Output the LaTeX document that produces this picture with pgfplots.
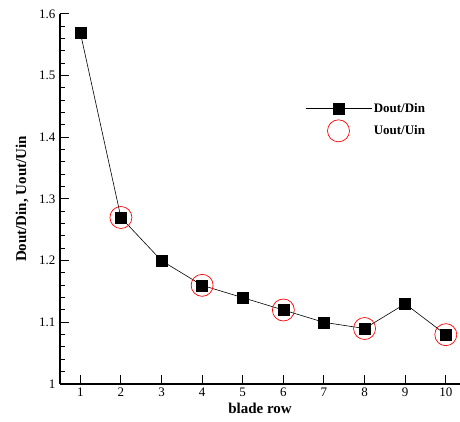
\documentclass[border=0pt]{standalone}
\usepackage{fontspec}
\setmainfont{Liberation Serif}
\usepackage{pgfplots}
\pgfplotsset{compat=1.18}

\begin{document}
\begin{tikzpicture}
\useasboundingbox (-60pt,-38pt) rectangle (400pt,384pt);
\begin{axis}[
  scale only axis,
  width=400pt, height=370pt,
  xmin=0.5, xmax=10.35,
  ymin=1, ymax=1.6,
  axis x line*=bottom,
  axis y line*=left,
  axis line style={line width=1.3pt, -},
  xtick={1,...,10},
  ytick={1,1.1,...,1.6},
  minor y tick num=4,
  tick align=inside,
  major tick length=9pt,
  minor tick length=5pt,
  tick style={line width=1pt, black},
  /pgf/number format/assume math mode=true,
  ticklabel style={font=\fontsize{13}{15}\selectfont},
  yticklabel style={xshift=-1pt},
  xlabel={\textbf{blade row}},
  ylabel={\textbf{Dout/Din, Uout/Uin}},
  label style={font=\fontsize{15}{17}\selectfont},
  xlabel style={yshift=0pt},
  ylabel style={yshift=4pt},
  legend style={draw=none, fill=none, at={(0.605,0.77)}, anchor=north west,
    font=\fontsize{13}{15}\selectfont\bfseries, row sep=4pt,
    /tikz/every even column/.append style={column sep=0pt}},
  legend cell align=left,
  legend image code/.code={\draw[mark repeat=2,mark phase=2,#1] plot coordinates {(0pt,0pt) (33pt,0pt) (66pt,0pt)};},
]
\addplot[black, line width=0.6pt, mark=square*, mark size=5.5pt] coordinates {
  (1,1.57) (2,1.27) (3,1.20) (4,1.16) (5,1.14)
  (6,1.12) (7,1.10) (8,1.09) (9,1.13) (10,1.08)
};
\addlegendentry{Dout/Din}
\addplot[only marks, red, mark=o, mark size=11pt, mark options={line width=0.7pt}] coordinates {
  (2,1.27) (4,1.16) (6,1.12) (8,1.09) (10,1.08)
};
\addlegendentry{Uout/Uin}
\end{axis}
\end{tikzpicture}
\end{document}
